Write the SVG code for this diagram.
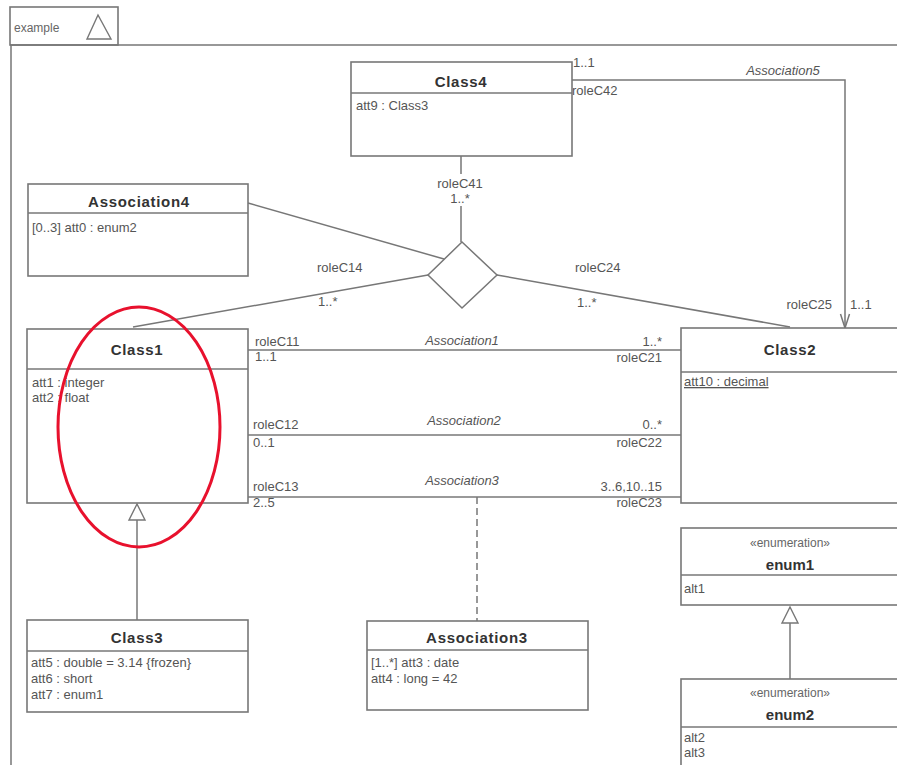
<svg xmlns="http://www.w3.org/2000/svg" width="897" height="765" viewBox="0 0 897 765">
  <style>
    .box { fill: #ffffff; stroke: #777777; stroke-width: 1.6; }
    .ln { fill: none; stroke: #777777; stroke-width: 1.5; }
    .dash { fill: none; stroke: #777777; stroke-width: 1.5; stroke-dasharray: 7 4; }
    .t { font-family: "Liberation Sans", Arial, sans-serif; font-size: 13px; fill: #555555; }
    .it { font-style: italic; }
    .ttl { font-family: "Liberation Sans", Arial, sans-serif; font-size: 15px; font-weight: bold; fill: #333333; letter-spacing: 0.7px; }
    .st { font-family: "Liberation Sans", Arial, sans-serif; font-size: 12px; fill: #666666; }
    .mid { text-anchor: middle; }
    .end { text-anchor: end; }
    .head { fill: #ffffff; stroke: #777777; stroke-width: 1.4; }
  </style>

  <rect width="897" height="765" fill="#ffffff"/>

  <!-- package frame -->
  <g id="frame">
    <rect x="10" y="7" width="108" height="38" class="box"/>
    <path d="M10 45 H897 M11 45 V765" class="ln"/>
    <text x="14" y="32" class="st">example</text>
    <path d="M98 15 L87 39 L111 39 Z" fill="none" stroke="#777777" stroke-width="1.4"/>
  </g>

  <!-- connectors -->
  <g id="connectors">
    <!-- n-ary association diamond legs -->
    <path d="M461 156 V174 M461 206 V242" class="ln"/>
    <path d="M428 275 L133 327" class="ln"/>
    <path d="M497 275 L790 327" class="ln"/>
    <path d="M248 203 L444 259" class="ln"/>
    <!-- Association1..3 -->
    <path d="M248 350 H681" class="ln"/>
    <path d="M248 435 H681" class="ln"/>
    <path d="M248 497 H681" class="ln"/>
    <path d="M477 497 V621" class="dash"/>
    <!-- Association5 with navigable end -->
    <path d="M572 80 H845 V328" class="ln"/>
    <path d="M840.5 314 L845 328 L849.5 314" class="ln"/>
    <!-- generalizations -->
    <path d="M137 620 V520" class="ln"/>
    <path d="M137 504 L129 520 L145 520 Z" class="head"/>
    <path d="M790 679 V623" class="ln"/>
    <path d="M790 607 L782 623 L798 623 Z" class="head"/>
  </g>

  <!-- connector labels -->
  <g id="labels">
    <text x="460" y="188" class="t mid">roleC41</text>
    <text x="460" y="203" class="t mid">1..*</text>
    <text x="317" y="272" class="t">roleC14</text>
    <text x="318" y="306" class="t">1..*</text>
    <text x="575" y="272" class="t">roleC24</text>
    <text x="577" y="307" class="t">1..*</text>

    <text x="573" y="67" class="t">1..1</text>
    <text x="572" y="95" class="t">roleC42</text>
    <text x="783" y="75" class="t it mid">Association5</text>
    <text x="832" y="309" class="t end">roleC25</text>
    <text x="850" y="309" class="t">1..1</text>

    <text x="255" y="346" class="t">roleC11</text>
    <text x="255" y="361" class="t">1..1</text>
    <text x="462" y="345" class="t it mid">Association1</text>
    <text x="662" y="346" class="t end">1..*</text>
    <text x="662" y="362" class="t end">roleC21</text>

    <text x="253" y="429" class="t">roleC12</text>
    <text x="253" y="447" class="t">0..1</text>
    <text x="464" y="425" class="t it mid">Association2</text>
    <text x="662" y="429" class="t end">0..*</text>
    <text x="662" y="447" class="t end">roleC22</text>

    <text x="253" y="491" class="t">roleC13</text>
    <text x="253" y="507" class="t">2..5</text>
    <text x="462" y="485" class="t it mid">Association3</text>
    <text x="662" y="491" class="t end">3..6,10..15</text>
    <text x="662" y="507" class="t end">roleC23</text>
  </g>

  <g id="diamond">
    <path d="M462 242 L497 275 L462 308 L428 275 Z" fill="#ffffff" stroke="#777777" stroke-width="1.5"/>
  </g>

  <g id="Class4">
    <rect x="351" y="62" width="221" height="94" class="box"/>
    <path d="M351 93 H572" class="ln"/>
    <text x="461" y="87" class="ttl mid">Class4</text>
    <text x="356" y="110" class="t">att9 : Class3</text>
  </g>

  <g id="Association4">
    <rect x="28" y="184" width="220" height="92" class="box"/>
    <path d="M28 213 H248" class="ln"/>
    <text x="139" y="207" class="ttl mid">Association4</text>
    <text x="32" y="232" class="t">[0..3] att0 : enum2</text>
  </g>

  <g id="Class1">
    <rect x="27" y="329" width="221" height="174" class="box"/>
    <path d="M27 369 H248" class="ln"/>
    <text x="137" y="355" class="ttl mid">Class1</text>
    <text x="32" y="387" class="t">att1 : integer</text>
    <text x="32" y="402" class="t">att2 : float</text>
  </g>

  <g id="Class2">
    <rect x="681" y="328" width="230" height="175" class="box"/>
    <path d="M681 372 H897" class="ln"/>
    <text x="790" y="355" class="ttl mid">Class2</text>
    <text x="684" y="386" class="t" text-decoration="underline">att10 : decimal</text>
  </g>

  <g id="Class3">
    <rect x="27" y="620" width="221" height="92" class="box"/>
    <path d="M27 651 H248" class="ln"/>
    <text x="137" y="643" class="ttl mid">Class3</text>
    <text x="31" y="667" class="t">att5 : double = 3.14 {frozen}</text>
    <text x="31" y="683" class="t">att6 : short</text>
    <text x="31" y="699" class="t">att7 : enum1</text>
  </g>

  <g id="Association3">
    <rect x="367" y="621" width="221" height="89" class="box"/>
    <path d="M367 650 H588" class="ln"/>
    <text x="477" y="643" class="ttl mid">Association3</text>
    <text x="371" y="667" class="t">[1..*] att3 : date</text>
    <text x="371" y="683" class="t">att4 : long = 42</text>
  </g>

  <g id="enum1">
    <rect x="681" y="528" width="230" height="77" class="box"/>
    <path d="M681 575 H897" class="ln"/>
    <text x="790" y="547" class="st mid">«enumeration»</text>
    <text x="790" y="570" class="ttl mid" style="letter-spacing:0">enum1</text>
    <text x="684" y="593" class="t">alt1</text>
  </g>

  <g id="enum2">
    <rect x="681" y="679" width="230" height="100" class="box"/>
    <path d="M681 727 H897" class="ln"/>
    <text x="790" y="697" class="st mid">«enumeration»</text>
    <text x="790" y="720" class="ttl mid" style="letter-spacing:0">enum2</text>
    <text x="684" y="742" class="t">alt2</text>
    <text x="684" y="757" class="t">alt3</text>
  </g>

  <!-- highlight mark -->
  <ellipse cx="139" cy="427" rx="81" ry="120" fill="none" stroke="#e8112d" stroke-width="3"/>
</svg>
